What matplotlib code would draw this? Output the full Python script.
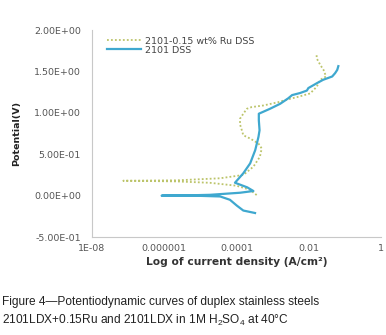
import matplotlib
matplotlib.use("Agg")
import matplotlib.pyplot as plt
from matplotlib.ticker import FuncFormatter, FixedLocator

plt.rcParams["mathtext.fontset"] = "custom"
plt.rcParams["mathtext.rm"] = "Liberation Sans"
plt.rcParams["mathtext.it"] = "Liberation Sans:italic"
plt.rcParams["mathtext.bf"] = "Liberation Sans:bold"

# 2101-0.15 wt% Ru DSS (dotted) : log10 current density, potential (V)
ru_logi = [-3.44, -3.62, -4.00, -4.73, -5.65, -7.13, -5.65, -4.45, -3.81, -3.53,
           -3.35, -3.30, -3.39, -3.62, -3.81, -3.85, -3.90, -3.90, -3.81, -3.71,
           -3.58, -3.25, -2.84, -2.61, -2.33, -1.96, -1.78, -1.68, -1.52, -1.59,
           -1.68, -1.78, -1.78]
ru_pot = [0.007, 0.07, 0.12, 0.155, 0.172, 0.18, 0.185, 0.21, 0.25, 0.35,
          0.47, 0.57, 0.63, 0.69, 0.73, 0.79, 0.86, 0.93, 0.99, 1.05,
          1.07, 1.09, 1.13, 1.16, 1.19, 1.235, 1.315, 1.40, 1.44, 1.52,
          1.58, 1.66, 1.70]

# 2101 DSS (solid)
dss_logi = [-3.485, -3.81, -3.99, -4.18, -4.45, -5.2, -6.07, -5.2, -4.73, -3.90,
            -3.53, -3.70, -4.04, -3.81, -3.62, -3.48, -3.39, -3.36, -3.37, -3.38,
            -3.38, -3.07, -2.79, -2.57, -2.46, -2.24, -2.05, -2.01, -1.77, -1.60,
            -1.35, -1.27, -1.21, -1.18]
dss_pot = [-0.21, -0.18, -0.12, -0.05, -0.01, 0.0, 0.0, 0.005, 0.01, 0.035,
           0.056, 0.10, 0.156, 0.27, 0.39, 0.55, 0.71, 0.79, 0.85, 0.91,
           0.99, 1.05, 1.11, 1.175, 1.215, 1.24, 1.27, 1.30, 1.36, 1.40,
           1.44, 1.48, 1.52, 1.565]

x_ticks = [1e-8, 1e-6, 1e-4, 1e-2, 1]
x_labels = ["1E-08", "0.000001", "0.0001", "0.01", "1"]
y_ticks = [-0.5, 0.0, 0.5, 1.0, 1.5, 2.0]

fig = plt.figure(figsize=(3.86, 3.35), dpi=100)
ax = fig.add_axes([0.238, 0.2925, 0.749, 0.6175])

ax.plot([10 ** v for v in ru_logi], ru_pot, color="#bcc46a", lw=1.3,
        linestyle=(0, (1, 1.2)), label="2101-0.15 wt% Ru DSS")
ax.plot([10 ** v for v in dss_logi], dss_pot, color="#3fa8cf", lw=1.6,
        label="2101 DSS")

ax.set_xscale("log")
ax.set_xlim(1e-8, 1)
ax.set_ylim(-0.5, 2.0)
ax.xaxis.set_major_locator(FixedLocator(x_ticks))
ax.xaxis.set_minor_locator(FixedLocator([]))
ax.set_xticklabels(x_labels)
ax.set_yticks(y_ticks)
ax.yaxis.set_major_formatter(FuncFormatter(lambda v, p: f"{v:.2E}"))
ax.tick_params(length=0, labelsize=6.8, colors="#555555")
ax.tick_params(axis="y", pad=8)
ax.tick_params(axis="x", pad=5)

for s in ["top", "right"]:
    ax.spines[s].set_visible(False)
for s in ["left", "bottom"]:
    ax.spines[s].set_color("#c8c8c8")

ax.set_xlabel("Log of current density (A/cm²)", fontsize=7.7, fontweight="bold",
              color="#333333", labelpad=3)
ax.set_ylabel("Potential(V)", fontsize=6.8, fontweight="bold", color="#222222",
              labelpad=9)

ax.legend(loc="upper left", bbox_to_anchor=(0.03, 1.0), frameon=False,
          fontsize=6.8, handlelength=3.6, handletextpad=0.4, labelspacing=0.0,
          borderaxespad=0.3, labelcolor="#444444")

fig.text(0.005, 0.098, "Figure 4\u2014Potentiodynamic curves of duplex stainless steels",
         fontsize=8.6, family="Liberation Sans", color="#222222", va="center")
fig.text(0.005, 0.044, "2101LDX+0.15Ru and 2101LDX in 1M H$_2$SO$_4$ at 40°C",
         fontsize=8.6, family="Liberation Sans", color="#222222", va="center")

fig.savefig("out.png", dpi=100)
